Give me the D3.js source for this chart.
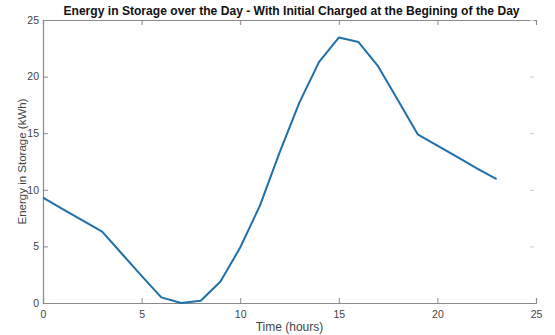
<!DOCTYPE html>
<html><head><meta charset="utf-8">
<script src="https://cdn.jsdelivr.net/npm/d3@7"></script>
<style>body{margin:0;background:#fff;}svg{display:block;font-family:"Liberation Sans",Arial,sans-serif;}</style>
</head><body>
<svg id="c" width="555" height="335"></svg>
<script>
const hours = [0,1,2,3,4,5,6,7,8,9,10,11,12,13,14,15,16,17,18,19,20,21,22,23];
const energy = [9.3,8.3,7.3,6.3,4.35,2.4,0.5,0.0,0.2,1.9,4.9,8.6,13.3,17.7,21.3,23.45,23.05,20.9,17.9,14.9,13.9,12.9,11.9,10.95];
const xTicks = [0,5,10,15,20,25];
const yTicks = [0,5,10,15,20,25];
const title = "Energy in Storage over the Day - With Initial Charged at the Begining of the Day";
const xLabel = "Time (hours)";
const yLabel = "Energy in Storage (kWh)";

const svg = d3.select("#c");
const L=43, R=536, T=20, B=303;
const x = d3.scaleLinear().domain([0,25]).range([L,R]);
const y = d3.scaleLinear().domain([0,25]).range([B,T]);
const axisCol="#8a8a8a", textCol="#444";

const gt = svg.append("g").attr("transform",`translate(0,${T})`)
  .call(d3.axisTop(x).tickValues(xTicks).tickSize(-5).tickFormat(""));
const gr = svg.append("g").attr("transform",`translate(${R-2},0)`)
  .call(d3.axisRight(y).tickValues(yTicks).tickSize(-4).tickFormat(""));
gr.select(".domain").remove();
gr.selectAll("line").attr("stroke","#ccc");

const gx = svg.append("g").attr("transform",`translate(0,${B})`)
  .call(d3.axisBottom(x).tickValues(xTicks).tickSize(-5).tickPadding(8));
const gy = svg.append("g").attr("transform",`translate(${L},0)`)
  .call(d3.axisLeft(y).tickValues(yTicks).tickSize(-5).tickPadding(4));

[gt,gx,gy].forEach(g=>{
  g.select(".domain").attr("stroke",axisCol).attr("stroke-width",1.2);
  g.selectAll(".tick line").attr("stroke",axisCol);
  g.selectAll("text").attr("fill",textCol).style("font-size","10.5px").style("font-family","Liberation Sans, Arial, sans-serif");
});

svg.append("path").datum(hours.map((h,i)=>[h,energy[i]]))
  .attr("fill","none").attr("stroke","#1f6fa8").attr("stroke-width",2)
  .attr("stroke-linejoin","round")
  .attr("d", d3.line().x(d=>x(d[0])).y(d=>y(d[1])));

svg.append("text").attr("x",(L+R)/2+2).attr("y",15).attr("text-anchor","middle")
  .style("font-weight","bold").style("font-size","12.1px").attr("fill","#111").text(title);
svg.append("text").attr("x",(L+R)/2).attr("y",331).attr("text-anchor","middle")
  .style("font-size","12px").attr("fill",textCol).text(xLabel);
svg.append("text").attr("transform",`translate(26,${(T+B)/2}) rotate(-90)`).attr("text-anchor","middle")
  .style("font-size","11.5px").attr("fill",textCol).text(yLabel);
</script>
</body></html>
